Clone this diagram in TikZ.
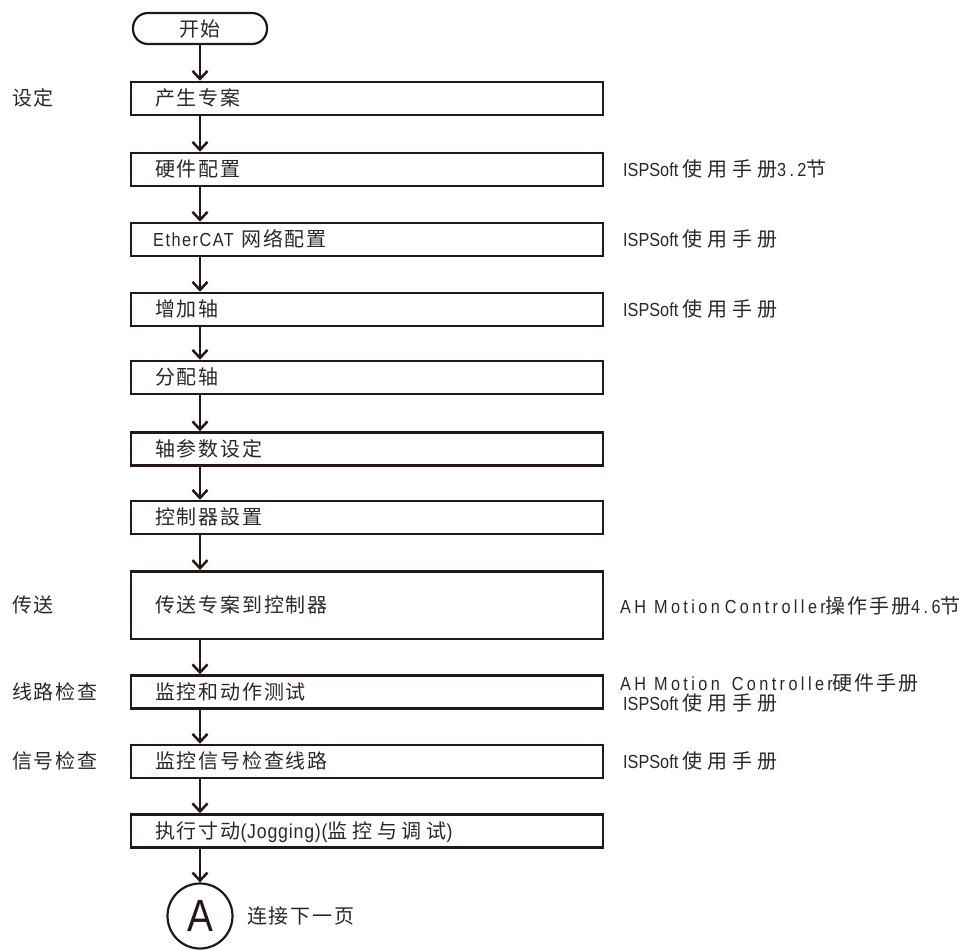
\documentclass[tikz,border=0pt]{standalone}
\usepackage{fontspec}
\setmainfont{Liberation Sans}[FakeStretch=0.86, Scale=1.05]
\newfontfamily\latsp{Liberation Sans}[FakeStretch=0.86, Scale=1.05, LetterSpace=8]
\newfontfamily\latwide{Liberation Sans}[FakeStretch=0.86, Scale=1.05, LetterSpace=18]
\newfontfamily\latbig{Liberation Sans}[FakeStretch=0.88, Scale=1.12, LetterSpace=4]
\newfontfamily\cjkfont{Noto Sans CJK SC}[Scale=1.11, LetterSpace=9]
\newfontfamily\cjkwide{Noto Sans CJK SC}[Scale=1.11, LetterSpace=24]
\newcommand\zh[1]{{\cjkfont #1}}
\newcommand\zw[1]{{\cjkwide #1}}
\usetikzlibrary{arrows.meta}
\definecolor{ink}{HTML}{231815}
\definecolor{txtc}{HTML}{2C2725}
\tikzset{
  box/.style={draw=ink, line width=2.5pt, minimum width=472pt, minimum height=33pt, inner sep=0pt},
  term/.style={draw=ink, line width=2.2pt, rounded corners=15pt, minimum width=134pt, minimum height=31pt, inner sep=0pt, text=txtc, font=\fontsize{18}{21}\selectfont},
  arr/.style={draw=ink, line width=2.5pt, -{Straight Barb[length=8pt,width=15pt]}},
  lab/.style={anchor=base west, inner sep=0pt, text=txtc, font=\fontsize{18}{21}\selectfont},
  conn/.style={draw=ink, line width=2.2pt, circle, minimum size=65pt, inner sep=0pt, text=ink, font=\fontsize{43}{50}\selectfont},
}
\begin{document}
\begin{tikzpicture}[x=1pt,y=-1pt]
\useasboundingbox (0,0) rectangle (970,950);
% flow nodes
\node[term] (start) at (200,28.5) {\zh{开始}};
\node[box] (b1) at (367,98.5) {};
\node[box] (b2) at (367,169.5) {};
\node[box] (b3) at (367,239.5) {};
\node[box] (b4) at (367,309.5) {};
\node[box] (b5) at (367,377.5) {};
\node[box] (b6) at (367,449) {};
\node[box] (b7) at (367,517.5) {};
\node[box, minimum height=67.5pt] (b8) at (367,605) {};
\node[box] (b9) at (367,692) {};
\node[box] (b10) at (367,761.5) {};
\node[box] (b11) at (367,831) {};
\node[conn] (A) at (200,916) {A};
% box texts
\node[lab] (t1) at (155,105.5) {\zh{产生专案}};
\node[lab] (t2) at (155,176.5) {\zh{硬件配置}};
\node[lab] (t3) at (153,246.5) {{\latsp EtherCAT}\hspace{3pt} \zh{网络配置}};
\node[lab] (t4) at (155,316.5) {\zh{增加轴}};
\node[lab] (t5) at (155,384.5) {\zh{分配轴}};
\node[lab] (t6) at (155,456) {\zh{轴参数设定}};
\node[lab] (t7) at (155,524.5) {\zh{控制器設置}};
\node[lab] (t8) at (155,612) {\zh{传送专案到控制器}};
\node[lab] (t9) at (155,699) {\zh{监控和动作测试}};
\node[lab] (t10) at (155,768.5) {\zh{监控信号检查线路}};
\node[lab] (t11) at (155,838) {\zh{执行寸动}{\latbig(Jogging)(}\zw{监控与调试}{\latbig)}};
\node[lab] (tA) at (247,923) {\zh{连接下一页}};
% left labels
\node[lab] (l1) at (12,105.5) {\zh{设定}};
\node[lab] (l8) at (12,612) {\zh{传送}};
\node[lab] (l9) at (12,699) {\zh{线路检查}};
\node[lab] (l10) at (12,768.5) {\zh{信号检查}};
% right labels
\node[lab] (r2) at (623,176.5) {ISPSoft \zw{使用手册}{\latwide 3.2}\zw{节}};
\node[lab] (r3) at (623,246.5) {ISPSoft \zw{使用手册}};
\node[lab] (r4) at (623,316.5) {ISPSoft \zw{使用手册}};
\node[lab] (r8) at (620,613.5) {{\latwide AH Motion\hspace{-3pt} Controller}\zh{操作手册}{\latwide 4.6}\zh{节}};
\node[lab] (r9a) at (620,690) {{\latwide AH Motion\hspace{4pt} Controller}\zh{硬件手册}};
\node[lab] (r9b) at (623,710.5) {ISPSoft \zw{使用手册}};
\node[lab] (r10) at (623,768.5) {ISPSoft \zw{使用手册}};
% connectors
\draw[arr] (start.south) -- (b1.north -| start.south);
\draw[arr] (b1.south -| start.south) -- (b2.north -| start.south);
\draw[arr] (b2.south -| start.south) -- (b3.north -| start.south);
\draw[arr] (b3.south -| start.south) -- (b4.north -| start.south);
\draw[arr] (b4.south -| start.south) -- (b5.north -| start.south);
\draw[arr] (b5.south -| start.south) -- (b6.north -| start.south);
\draw[arr] (b6.south -| start.south) -- (b7.north -| start.south);
\draw[arr] (b7.south -| start.south) -- (b8.north -| start.south);
\draw[arr] (b8.south -| start.south) -- (b9.north -| start.south);
\draw[arr] (b9.south -| start.south) -- (b10.north -| start.south);
\draw[arr] (b10.south -| start.south) -- (b11.north -| start.south);
\draw[arr] (b11.south -| start.south) -- (A.north);
\end{tikzpicture}
\end{document}
